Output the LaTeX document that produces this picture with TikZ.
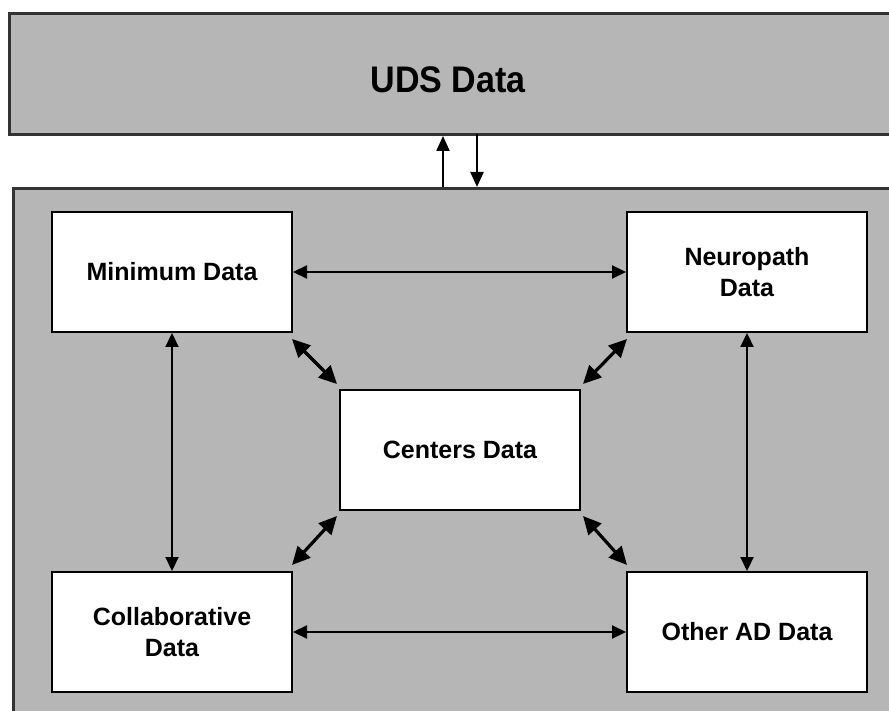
\documentclass[tikz,border=0pt]{standalone}
\usepackage{fontspec}
\setmainfont{Liberation Sans}
\usetikzlibrary{arrows.meta,calc}
\definecolor{panelgray}{HTML}{B6B6B6}
\definecolor{edgegray}{HTML}{333333}
\begin{document}
\begin{tikzpicture}[x=1pt,y=-1pt,
  panel/.style={draw=edgegray, line width=3pt, fill=panelgray},
  databox/.style={draw=black, line width=2pt, fill=white, minimum width=240pt,
    minimum height=120pt, align=center, inner sep=0pt,
    font=\bfseries\fontsize{25}{31}\selectfont},
  link/.style={line width=2.2pt, {Triangle[length=14pt,width=13pt]}-{Triangle[length=14pt,width=13pt]}},
  diag/.style={line width=3.2pt, {Triangle[length=18pt,width=17pt]}-{Triangle[length=18pt,width=17pt]}},
  oneway/.style={line width=2.2pt, -{Triangle[length=15pt,width=13pt]}}]
\useasboundingbox (0,0) rectangle (889,711);
\fill[white] (0,0) rectangle (889,711);
\begin{scope}
\clip (0,0) rectangle (889,711);
\node[panel, minimum width=900pt, minimum height=121pt, anchor=north west, inner sep=0pt] (uds) at (8,12) {};
\node[font=\bfseries\fontsize{37}{40}\selectfont] (udslabel) at (448,80) {\scalebox{0.92}[1]{UDS Data}};
\node[panel, minimum width=900pt, minimum height=560pt, anchor=north west, inner sep=0pt] (local) at (12,187) {};
\end{scope}

\node[databox] (min) at (172,272) {Minimum Data};
\node[databox] (neuro) at (747,272) {Neuropath\\Data};
\node[databox] (centers) at (460,450) {Centers Data};
\node[databox] (collab) at (172,632) {Collaborative\\Data};
\node[databox] (other) at (747,632) {Other AD Data};

% UDS exchange
\draw[oneway] (443,187) coordinate (upfoot) -- (upfoot |- uds.south);
\draw[oneway] (477,134) coordinate (downfoot) -- (downfoot |- local.north);

% horizontal and vertical links
\draw[link] (min.east) -- (neuro.west);
\draw[link] (collab.east) -- (other.west);
\draw[link] (min.south) -- (collab.north);
\draw[link] (neuro.south) -- (other.north);

% diagonal links
\draw[diag] ($(min.south east)+(-1,6)$) -- ($(centers.north west)+(-2,-5)$);
\draw[diag] ($(neuro.south west)+(1,6)$) -- ($(centers.north east)+(2,-5)$);
\draw[diag] ($(collab.north east)+(-1,-6)$) -- ($(centers.south west)+(-2,5)$);
\draw[diag] ($(other.north west)+(1,-6)$) -- ($(centers.south east)+(2,5)$);
\end{tikzpicture}
\end{document}
